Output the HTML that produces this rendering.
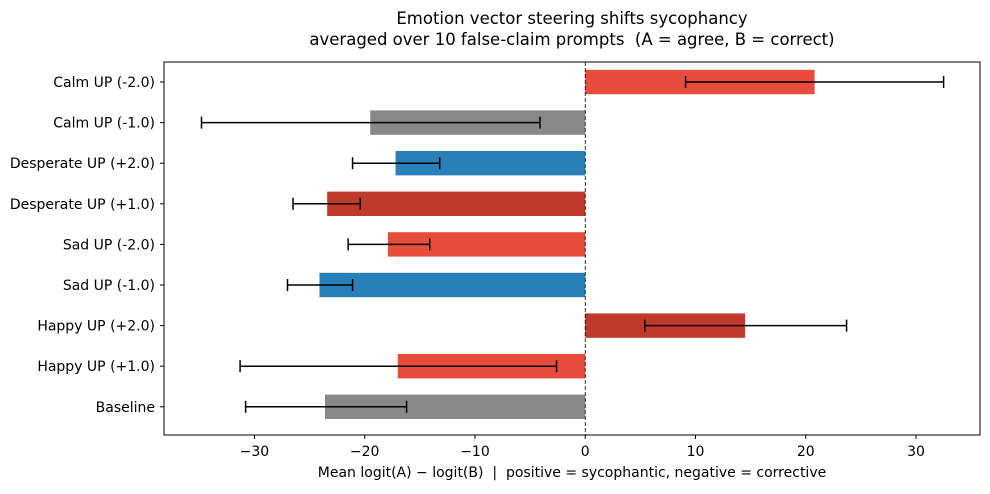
<!DOCTYPE html>
<html><head><meta charset="utf-8"><style>
body{margin:0;background:#fff;font-family:"Liberation Sans","DejaVu Sans",sans-serif}
svg text{font-family:"DejaVu Sans","Liberation Sans",sans-serif;fill:#000}
</style></head><body>
<svg id="c" width="990" height="489"></svg>
<script>
const categories=["Calm UP (-2.0)","Calm UP (-1.0)","Desperate UP (+2.0)","Desperate UP (+1.0)","Sad UP (-2.0)","Sad UP (-1.0)","Happy UP (+2.0)","Happy UP (+1.0)","Baseline"];
const values=[20.8,-19.5,-17.2,-23.4,-17.9,-24.1,14.5,-17.0,-23.6];
const errLow=[9.1,-34.8,-21.1,-26.5,-21.5,-27.0,5.4,-31.3,-30.8];
const errHigh=[32.5,-4.1,-13.2,-20.4,-14.1,-21.1,23.7,-2.6,-16.2];
const colors=["#e74c3c","#888888","#2980b9","#c0392b","#e74c3c","#2980b9","#c0392b","#e74c3c","#888888"];
const xTicks=[-30,-20,-10,0,10,20,30];
const NS="http://www.w3.org/2000/svg";
const svg=document.getElementById('c');
const L=164,R=980,T=62,B=435,xmin=-38.2,xmax=35.8;
const x=v=>L+(v-xmin)/(xmax-xmin)*(R-L);
const step=40.6;
const y=i=>82+i*step;
function mk(t,a,txt){const e=document.createElementNS(NS,t);for(const k in a)e.setAttribute(k,a[k]);if(txt!==undefined)e.textContent=txt;svg.appendChild(e);return e;}
let e;
categories.forEach((c,i)=>{
 const x0=x(0),x1=x(values[i]);
 e=mk('rect',{x:Math.min(x0,x1),y:y(i)-12.2,width:Math.abs(x1-x0),height:24.4,fill:colors[i]});
 
 
 e=mk('g',{stroke:'#000','stroke-width':1.5});
 
 
 const a=x(errLow[i]),b=x(errHigh[i]),yy=y(i);
 [[a,yy,b,yy],[a,yy-6,a,yy+6],[b,yy-6,b,yy+6]].forEach(p=>{const l=document.createElementNS(NS,'line');l.setAttribute('x1',p[0]);l.setAttribute('y1',p[1]);l.setAttribute('x2',p[2]);l.setAttribute('y2',p[3]);e.appendChild(l);});
 mk('line',{x1:L-4,x2:L,y1:y(i),y2:y(i),stroke:'#000'});
 e=mk('text',{x:L-9,y:y(i)+5,'text-anchor':'end','font-size':14},c);
 
 
});
e=mk('line',{x1:x(0),x2:x(0),y1:T,y2:B,stroke:'#000','stroke-width':0.8,'stroke-dasharray':'4,2'});


xTicks.forEach(t=>{
 mk('line',{x1:x(t),x2:x(t),y1:B,y2:B+4,stroke:'#000'});
 e=mk('text',{x:x(t),y:B+21,'text-anchor':'middle','font-size':14},t<0?'\u2212'+(-t):String(t));
 
 
});
e=mk('rect',{x:L,y:T,width:R-L,height:B-T,fill:'none',stroke:'#000','stroke-width':1});


e=mk('text',{x:(L+R)/2,y:477,'text-anchor':'middle','font-size':14,'xml:space':'preserve'},'Mean logit(A) \u2212 logit(B)  |  positive = sycophantic, negative = corrective');


e.setAttribute('style','white-space:pre');
e=mk('text',{x:(L+R)/2,y:24,'text-anchor':'middle','font-size':16.5},'Emotion vector steering shifts sycophancy');


e=mk('text',{x:(L+R)/2,y:45,'text-anchor':'middle','font-size':16.5},'averaged over 10 false-claim prompts  (A = agree, B = correct)');


e.setAttribute('style','white-space:pre');
</script>
</body></html>
